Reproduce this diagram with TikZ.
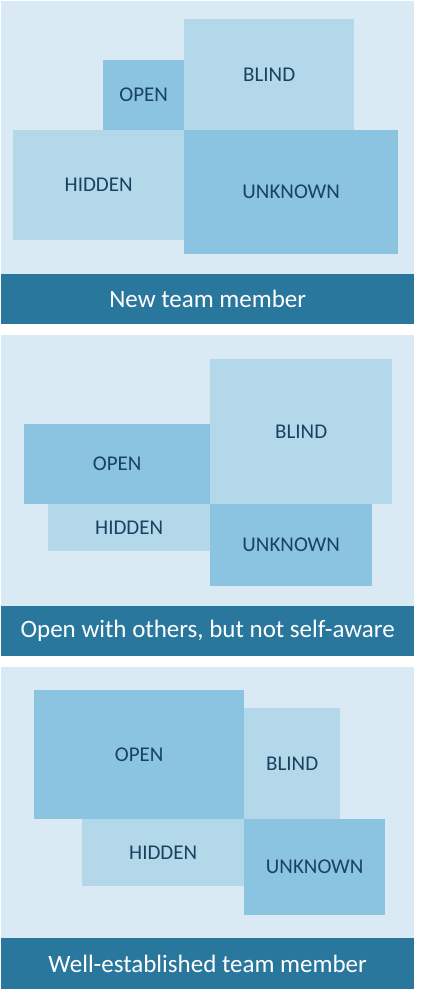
\documentclass[tikz,border=0pt]{standalone}
\usepackage{fontspec}
\setmainfont{Carlito}
\usetikzlibrary{positioning}
\definecolor{johariBg}{RGB}{217,234,244}
\definecolor{johariLight}{RGB}{178,216,234}
\definecolor{johariDark}{RGB}{139,196,224}
\definecolor{johariBand}{RGB}{41,119,156}
\definecolor{johariText}{RGB}{24,66,96}

\begin{document}
\begin{tikzpicture}[
      x=1pt, y=-1pt,
      pane/.style={fill=johariBg, anchor=north west, inner sep=0pt, minimum width=413pt},
      lightq/.style={fill=johariLight, anchor=north west, inner sep=0pt, text=johariText, font=\fontsize{21}{23}\selectfont},
      darkq/.style={lightq, fill=johariDark},
      band/.style={fill=johariBand, anchor=north west, inner sep=0pt, minimum width=413pt, minimum height=50pt, text=white, font=\fontsize{25}{27}\selectfont}
    ]
      \useasboundingbox (0,0) rectangle (443,991);
      % new team member
      \node[pane, minimum height=273pt] (bg1) at (1,1) {};
      \node[darkq, minimum width=81pt, minimum height=70pt] (open1) at (103,60) {OPEN};
      \node[lightq, minimum width=170pt, minimum height=111pt] (blind1) at (184,19) {BLIND};
      \node[lightq, minimum width=171pt, minimum height=110pt] (hidden1) at (13,130) {HIDDEN};
      \node[darkq, minimum width=214pt, minimum height=124pt] (unknown1) at (184,130) {UNKNOWN};
      \node[band] (band1) at (1,274) {New team member};
      % open with others
      \node[pane, minimum height=271pt] (bg2) at (1,335) {};
      \node[lightq, minimum width=182pt, minimum height=145pt] (blind2) at (210,359) {BLIND};
      \node[darkq, minimum width=186pt, minimum height=80pt] (open2) at (24,424) {OPEN};
      \node[lightq, minimum width=162pt, minimum height=47pt] (hidden2) at (48,504) {HIDDEN};
      \node[darkq, minimum width=162pt, minimum height=82pt] (unknown2) at (210,504) {UNKNOWN};
      \node[band] (band2) at (1,606) {Open with others, but not self-aware};
      % well-established
      \node[pane, minimum height=271pt] (bg3) at (1,667) {};
      \node[darkq, minimum width=210pt, minimum height=129pt] (open3) at (34,690) {OPEN};
      \node[lightq, minimum width=96pt, minimum height=111pt] (blind3) at (244,708) {BLIND};
      \node[lightq, minimum width=162pt, minimum height=67pt] (hidden3) at (82,819) {HIDDEN};
      \node[darkq, minimum width=141pt, minimum height=96pt] (unknown3) at (244,819) {UNKNOWN};
      \node[band, minimum height=51pt] (band3) at (1,938) {Well-established team member};
    \end{tikzpicture}
\end{document}
